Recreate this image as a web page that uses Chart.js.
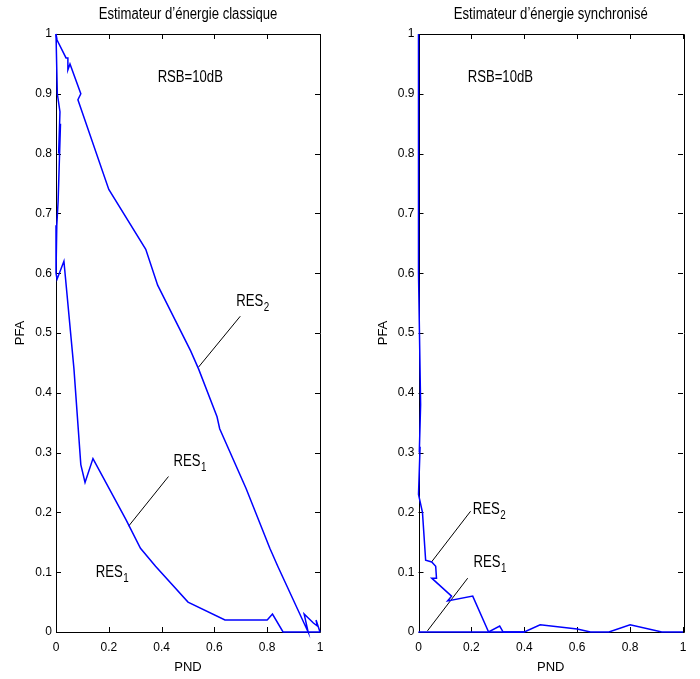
<!DOCTYPE html>
<html><head><meta charset="utf-8">
<script src="https://cdn.jsdelivr.net/npm/chart.js@4/dist/chart.umd.min.js"></script>
<style>
html,body{margin:0;padding:0;background:#fff;}
#wrap{position:relative;width:700px;height:679px;overflow:hidden;}
.c{position:absolute;top:0;height:679px;}
</style></head><body>
<div id="wrap">
<div class="c" style="left:0;width:350px"><canvas id="c1" width="350" height="679"></canvas></div>
<div class="c" style="left:350px;width:350px"><canvas id="c2" width="350" height="679"></canvas></div>
</div>
<script>
// ---- tick values / labels ----
const xTickValues = [0, 0.2, 0.4, 0.6, 0.8, 1];
const xTickLabels = ['0', '0.2', '0.4', '0.6', '0.8', '1'];
const yTickValues = [0, 0.1, 0.2, 0.3, 0.4, 0.5, 0.6, 0.7, 0.8, 0.9, 1];
const yTickLabels = ['0', '0.1', '0.2', '0.3', '0.4', '0.5', '0.6', '0.7', '0.8', '0.9', '1'];

const titleClassic = 'Estimateur d’énergie classique';
const titleSync = 'Estimateur d’énergie synchronisé';
const xAxisTitle = 'PND';
const yAxisTitle = 'PFA';

// ---- classic estimator ----
const classicRes2PND = [0, 0.004, 0.038, 0.045, 0.045, 0.053, 0.094, 0.083, 0.2, 0.34, 0.385, 0.51, 0.54, 0.61, 0.62, 0.72, 0.81, 0.84, 0.955, 0.94, 0.975, 0.99, 0.985, 1];
const classicRes2PFA = [1, 0.99, 0.96, 0.96, 0.94, 0.95, 0.90, 0.89, 0.74, 0.64, 0.58, 0.47, 0.44, 0.36, 0.34, 0.24, 0.14, 0.11, 0, 0.03, 0.015, 0.01, 0.02, 0];
const classicRes1PND = [0, 0.005, 0.015, 0.01, 0.017, 0.008, 0.003, 0, 0.004, 0.03, 0.068, 0.094, 0.11, 0.14, 0.265, 0.32, 0.377, 0.50, 0.64, 0.80, 0.82, 0.86, 1];
const classicRes1PFA = [1, 0.9, 0.87, 0.8, 0.85, 0.72, 0.68, 0.6, 0.59, 0.62, 0.44, 0.28, 0.25, 0.29, 0.188, 0.14, 0.11, 0.05, 0.02, 0.02, 0.03, 0, 0];

// ---- synchronised estimator ----
const syncRes2PND = [0, 0, 0.008, 0.003, 0.006, 0, 0.015, 0.027, 0.05, 0.065, 0.068, 0.05, 0.125, 0.11, 0.205, 0.265, 0.307, 0.32, 0.4];
const syncRes2PFA = [1, 0.6, 0.38, 0.3, 0.31, 0.23, 0.2, 0.12, 0.117, 0.11, 0.09, 0.09, 0.06, 0.052, 0.06, 0, 0.01, 0, 0];
const syncRes1PND = [0, 0.4, 0.46, 0.6, 0.65, 0.72, 0.8, 0.92, 1];
const syncRes1PFA = [0, 0, 0.012, 0.005, 0, 0, 0.012, 0, 0];

// ---- annotations (data units) ----
const classicNotes = [
  { text: 'RSB=10dB', sub: '', x: 0.385, y: 0.92 },
  { text: 'RES', sub: '2', x: 0.683, y: 0.545, lineX: [0.698, 0.54], lineY: [0.528, 0.443] },
  { text: 'RES', sub: '1', x: 0.445, y: 0.277, lineX: [0.426, 0.275], lineY: [0.26, 0.177] },
  { text: 'RES', sub: '1', x: 0.151, y: 0.092 }
];
const syncNotes = [
  { text: 'RSB=10dB', sub: '', x: 0.186, y: 0.92 },
  { text: 'RES', sub: '2', x: 0.205, y: 0.198, lineX: [0.197, 0.049], lineY: [0.202, 0.117] },
  { text: 'RES', sub: '1', x: 0.208, y: 0.108, lineX: [0.186, 0.034], lineY: [0.09, 0.002] }
];

const SANS = "'Liberation Sans', Arial, sans-serif";
const BLUE = '#0000ff';
const CONDENSE = 0.82;

function pts(xs, ys) { return xs.map((x, i) => ({ x: x, y: ys[i] })); }

function condensedText(ctx, txt, x, y, size, align) {
  ctx.save();
  ctx.font = size + 'px ' + SANS;
  ctx.translate(x, y);
  ctx.scale(CONDENSE, 1);
  ctx.textAlign = align;
  ctx.fillText(txt, 0, 0);
  const w = ctx.measureText(txt).width * CONDENSE;
  ctx.restore();
  return w;
}

function makePlugin(title, notes) {
  return {
    id: 'matlabFrame',
    beforeDatasetsDraw(chart) {
      const { ctx, chartArea: a, scales } = chart;
      ctx.save();
      ctx.strokeStyle = '#000';
      ctx.lineWidth = 1;
      ctx.beginPath();
      ctx.rect(Math.round(a.left) + 0.5, Math.round(a.top) + 0.5, Math.round(a.right - a.left), Math.round(a.bottom - a.top));
      ctx.stroke();
      const L = 5;
      ctx.beginPath();
      xTickValues.forEach(v => {
        const px = Math.round(scales.x.getPixelForValue(v)) + 0.5;
        ctx.moveTo(px, a.bottom); ctx.lineTo(px, a.bottom - L);
        ctx.moveTo(px, a.top); ctx.lineTo(px, a.top + L);
      });
      yTickValues.forEach(v => {
        const py = Math.round(scales.y.getPixelForValue(v)) + 0.5;
        ctx.moveTo(a.left, py); ctx.lineTo(a.left + L, py);
        ctx.moveTo(a.right, py); ctx.lineTo(a.right - L, py);
      });
      ctx.stroke();
      ctx.restore();
    },
    afterDatasetsDraw(chart) {
      const { ctx, chartArea: a, scales } = chart;
      ctx.save();
      ctx.fillStyle = '#000';
      ctx.textBaseline = 'alphabetic';
      notes.forEach(n => {
        const px = scales.x.getPixelForValue(n.x);
        const py = scales.y.getPixelForValue(n.y);
        const w = condensedText(ctx, n.text, px, py, 16, 'left');
        if (n.sub) condensedText(ctx, n.sub, px + w + 0.5, py + 5, 12, 'left');
      });
      // title centred over the axes box
      ctx.textBaseline = 'middle';
      condensedText(ctx, title, (a.left + a.right) / 2, 15, 16, 'center');
      ctx.restore();
    }
  };
}

function buildChart(id, title, res1x, res1y, res2x, res2y, notes, yAxisWidth, padRight, yTitlePad) {
  const datasets = [
    { data: pts(res1x, res1y), borderColor: BLUE, borderWidth: 1.5 },
    { data: pts(res2x, res2y), borderColor: BLUE, borderWidth: 1.5 }
  ];
  notes.forEach(n => {
    if (n.lineX) datasets.push({ data: pts(n.lineX, n.lineY), borderColor: '#000', borderWidth: 1 });
  });
  datasets.forEach(d => {
    d.showLine = true; d.pointRadius = 0; d.pointHoverRadius = 0; d.fill = false; d.tension = 0; d.clip = false;
  });
  return new Chart(document.getElementById(id), {
    type: 'scatter',
    data: { datasets: datasets },
    plugins: [makePlugin(title, notes)],
    options: {
      responsive: false,
      animation: false,
      events: [],
      layout: { padding: { top: 34, left: 0, right: padRight, bottom: 0 } },
      plugins: { legend: { display: false }, tooltip: { enabled: false }, title: { display: false } },
      scales: {
        x: {
          type: 'linear', min: 0, max: 1,
          afterBuildTicks: s => { s.ticks = xTickValues.map(v => ({ value: v })); },
          afterFit: s => { s.height = 47; },
          grid: { display: false, drawTicks: false },
          border: { display: false },
          ticks: { color: '#000', font: { family: SANS, size: 12 }, padding: 8, maxRotation: 0, autoSkip: false,
                   callback: (v, i) => xTickLabels[i] },
          title: { display: true, text: xAxisTitle, color: '#000', font: { family: SANS, size: 13 }, padding: { top: 0, bottom: 4 } }
        },
        y: {
          type: 'linear', min: 0, max: 1,
          afterBuildTicks: s => { s.ticks = yTickValues.map(v => ({ value: v })); },
          afterFit: s => { s.width = yAxisWidth; },
          grid: { display: false, drawTicks: false },
          border: { display: false },
          ticks: { color: '#000', font: { family: SANS, size: 12 }, padding: 4, autoSkip: false,
                   callback: (v, i) => yTickLabels[i] },
          title: { display: true, text: yAxisTitle, color: '#000', font: { family: SANS, size: 13 }, padding: { top: yTitlePad, bottom: 0 } }
        }
      }
    }
  });
}

buildChart('c1', titleClassic, classicRes1PND, classicRes1PFA, classicRes2PND, classicRes2PFA, classicNotes, 56, 30, 13);
buildChart('c2', titleSync, syncRes1PND, syncRes1PFA, syncRes2PND, syncRes2PFA, syncNotes, 68.5, 17, 26);
</script>
</body></html>
